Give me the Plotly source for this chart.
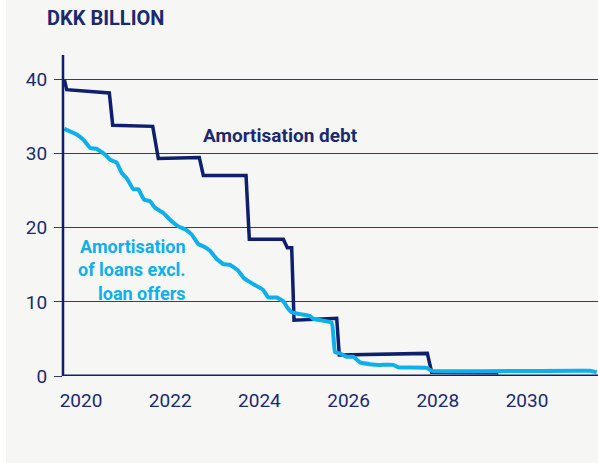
import plotly.graph_objects as go

# Amortisation debt (DKK billion), stepwise profile by decimal year
debt_year = [2019.626, 2019.679, 2020.635, 2020.711, 2021.608, 2021.733, 2022.652,
             2022.742, 2023.700, 2023.774, 2024.536, 2024.626, 2024.724, 2024.776,
             2025.733, 2025.791, 2027.765, 2027.863, 2029.357]
debt_value = [40.0, 38.65, 38.2, 33.85, 33.7, 29.36, 29.5,
              27.07, 27.07, 18.45, 18.45, 17.3, 17.3, 7.54,
              7.8, 2.83, 3.05, 0.5, 0.45]

# Amortisation of loans excluding loan offers (DKK billion)
loans_year = [2019.626, 2019.904, 2020.052, 2020.202, 2020.352, 2020.538, 2020.650,
              2020.800, 2020.913, 2021.025, 2021.173, 2021.285, 2021.413, 2021.547,
              2021.659, 2021.845, 2021.996, 2022.182, 2022.332, 2022.482, 2022.630,
              2022.742, 2022.892, 2023.043, 2023.191, 2023.341, 2023.527, 2023.639,
              2023.863, 2024.013, 2024.087, 2024.200, 2024.388, 2024.536, 2024.626,
              2024.724, 2024.910, 2025.135, 2025.209, 2025.621, 2025.695, 2025.807,
              2025.957, 2026.105, 2026.256, 2026.480, 2026.704, 2027.002, 2027.114,
              2027.751, 2027.863, 2031.413, 2031.563]
loans_value = [33.36, 32.6, 31.9, 30.8, 30.66, 29.9, 29.2,
               28.8, 27.4, 26.7, 25.2, 25.2, 23.8, 23.6,
               22.7, 22.0, 21.1, 20.2, 19.8, 19.1, 17.8,
               17.5, 16.9, 15.8, 15.1, 15.0, 14.2, 13.3,
               12.4, 11.9, 11.6, 10.6, 10.6, 10.1, 9.25,
               8.6, 8.35, 8.1, 7.7, 7.2, 3.2, 3.05,
               2.6, 2.6, 1.84, 1.6, 1.5, 1.5, 1.17,
               1.1, 0.7, 0.7, 0.5]

x_ticks = [2020, 2022, 2024, 2026, 2028, 2030]
y_ticks = [0, 10, 20, 30, 40]

# Series labels
debt_label = "Amortisation debt"
loans_label_lines = ["Amortisation", "of loans excl.", "loan offers"]

NAVY = "#0d1f6d"
TEXT = "#1b2a6e"
LIGHT = "#0db0ea"
GRID = "#2c3b82"
BG = "#f6f6f4"
FONT = "Roboto"

fig = go.Figure()
fig.add_trace(go.Scatter(x=debt_year, y=debt_value, mode="lines",
                         line=dict(color=NAVY, width=3.5), hoverinfo="skip"))
fig.add_trace(go.Scatter(x=loans_year, y=loans_value, mode="lines",
                         line=dict(color=LIGHT, width=4, shape="spline", smoothing=0.3),
                         hoverinfo="skip"))

annotations = [
    dict(text="<b>DKK BILLION</b>", xref="paper", yref="paper",
         x=(45 - 63) / 535, y=1 + (55 - 18) / 321, xanchor="left", yanchor="middle",
         showarrow=False, font=dict(family=FONT, size=20, color=TEXT)),
    dict(text=f"<b>{debt_label}</b>", x=2024.48, y=32.5, xref="x", yref="y",
         xanchor="center", yanchor="middle", showarrow=False,
         font=dict(family=FONT, size=19, color=TEXT)),
    dict(text="<b>" + "<br>".join(loans_label_lines) + "</b>", x=2022.40, y=14.36,
         xref="x", yref="y", xanchor="right", yanchor="middle", align="right",
         showarrow=False, font=dict(family=FONT, size=18, color=LIGHT)),
]

fig.update_layout(
    width=598, height=463,
    margin=dict(l=63, r=0, t=55, b=87),
    paper_bgcolor=BG, plot_bgcolor=BG,
    showlegend=False,
    font=dict(family=FONT, color=TEXT, size=19),
    xaxis=dict(range=[2019.596, 2031.592], tickvals=x_ticks,
               ticktext=[str(v) for v in x_ticks], showgrid=False, zeroline=False,
               showline=False, ticks="", ticklabelstandoff=11,
               tickfont=dict(family=FONT, size=19, color=TEXT)),
    yaxis=dict(range=[0, 43.33], tickvals=y_ticks, showgrid=True, gridcolor=GRID,
               gridwidth=1, zeroline=False, showline=False, ticks="outside",
               ticklen=8, tickcolor=GRID, tickwidth=1, ticklabelstandoff=3,
               tickfont=dict(family=FONT, size=19, color=TEXT)),
    shapes=[
        # white strip on the far left edge
        dict(type="rect", xref="paper", yref="paper", x0=-63 / 535, x1=-57 / 535,
             y0=-87 / 321, y1=55 / 321 + 1, fillcolor="white", line=dict(width=0),
             layer="below"),
        # y axis line
        dict(type="line", xref="paper", yref="paper", x0=0, x1=0, y0=0, y1=1,
             line=dict(color=NAVY, width=2.5)),
        # baseline at zero
        dict(type="line", xref="paper", yref="y", x0=0, x1=1, y0=0, y1=0,
             line=dict(color=NAVY, width=3)),
    ],
    annotations=annotations,
)

fig.write_html("out.html")
